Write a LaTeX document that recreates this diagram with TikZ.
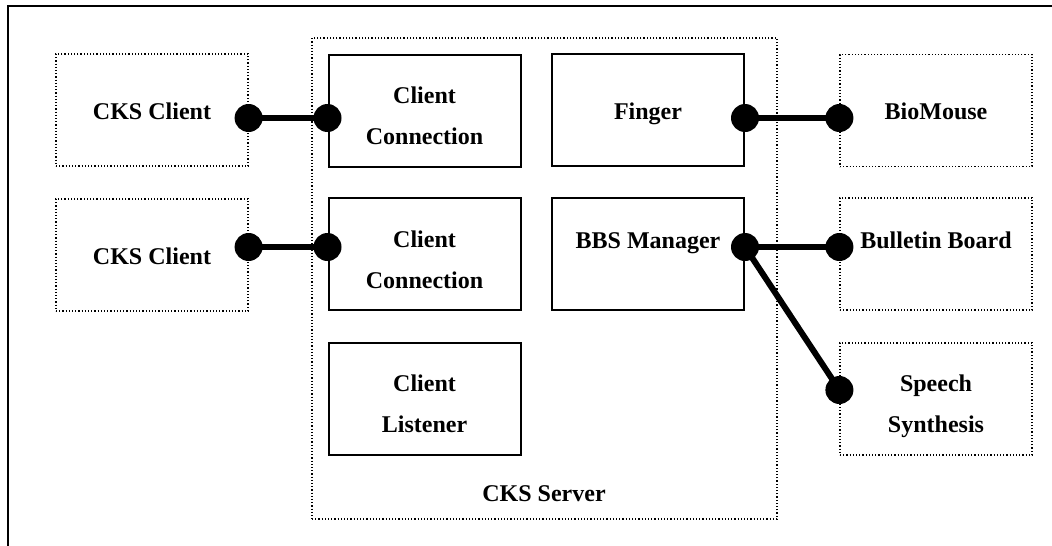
\documentclass[tikz,border=0pt]{standalone}
\usepackage{fontspec}
\setmainfont{Liberation Serif}
\usepackage{tikz}
\usetikzlibrary{positioning,calc}
\definecolor{ink}{RGB}{0,0,0}
\tikzset{
  frameline/.style={draw=ink, line width=2pt},
  solidbox/.style={draw=ink, line width=2pt, minimum width=192, minimum height=112},
  dotbox/.style={solidbox, line width=1.2pt, dotted},
  boxtext/.style={inner sep=0pt, font=\bfseries\fontsize{24}{41}\selectfont},
  lbl/.style={boxtext, text height=17pt, text depth=5pt},
  lbltwo/.style={boxtext, align=center},
  plug/.style={circle, fill=ink, draw=none, minimum size=28pt, inner sep=0pt},
  wire/.style={draw=ink, line width=6pt}
}

\begin{document}
\begin{tikzpicture}[x=1pt, y=-1pt]
\useasboundingbox (0,0) rectangle (1052,546);
\draw[frameline] (8,546) -- (8,6) -- (1052,6);

% server and its parts
\node[dotbox, minimum width=465, minimum height=481] (server) at (544.5,278.5) {};
\node[lbl] (servertxt) at (544,495) {CKS Server};
\node[solidbox] (conn1) at (424.5,110.5) {};
\node[solidbox] (conn2) at (424.5,254) {};
\node[solidbox] (listener) at (424.5,399) {};
\node[solidbox] (finger) at (648,110) {};
\node[solidbox] (bbs) at (648,254) {};

% outside parts
\node[dotbox] (client1) at (152,110) {};
\node[dotbox] (client2) at (152,255) {};
\node[dotbox] (mouse) at (936,110.5) {};
\node[dotbox] (board) at (936,254) {};
\node[dotbox] (speech) at (936,399) {};

% texts
\node[lbltwo] (conn1txt) at ([yshift=-5.5pt]conn1.center) {Client\\Connection};
\node[lbltwo] (conn2txt) at ([yshift=-6pt]conn2.center) {Client\\Connection};
\node[lbltwo] (listenertxt) at ([yshift=-4.5pt]listener.center) {Client\\Listener};
\node[lbl] (fingertxt) at ([yshift=-3pt]finger.center) {Finger};
\node[lbl] (bbstxt) at ([yshift=12pt]bbs.center) {BBS Manager};
\node[lbl] (client1txt) at ([yshift=-3pt]client1.center) {CKS Client};
\node[lbl] (client2txt) at ([yshift=-3pt]client2.center) {CKS Client};
\node[lbl] (mousetxt) at ([yshift=-3pt]mouse.center) {BioMouse};
\node[lbl] (boardtxt) at ([yshift=12pt]board.center) {Bulletin Board};
\node[lbltwo] (speechtxt) at ([yshift=-7.5pt]speech.center) {Speech\\Synthesis};

% plugs
\node[plug] (c1p) at ([yshift=-8pt]client1.east) {};
\node[plug] (k1p) at ([yshift=-7.5pt]conn1.west) {};
\node[plug] (c2p) at ([yshift=8pt]client2.east) {};
\node[plug] (k2p) at ([yshift=7pt]conn2.west) {};
\node[plug] (fp) at ([yshift=-8pt]finger.east) {};
\node[plug] (mp) at ([yshift=-7.5pt]mouse.west) {};
\node[plug] (bp) at ([yshift=7pt]bbs.east) {};
\node[plug] (bbp) at ([yshift=7pt]board.west) {};
\node[plug] (sp) at ([yshift=9pt]speech.west) {};

\draw[wire] (c1p.center) -- (k1p.center);
\draw[wire] (c2p.center) -- (k2p.center);
\draw[wire] (fp.center) -- (mp.center);
\draw[wire] (bp.center) -- (bbp.center);
\draw[wire] (bp.center) -- (sp.center);
\end{tikzpicture}
\end{document}
